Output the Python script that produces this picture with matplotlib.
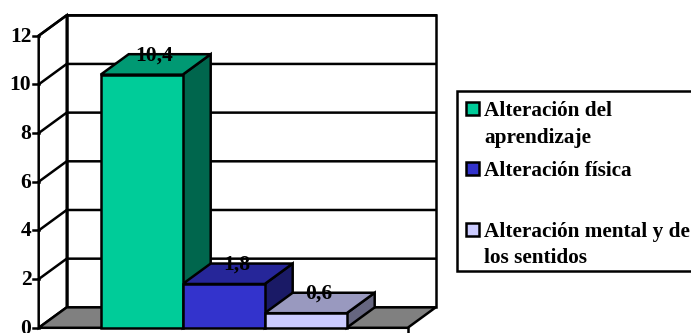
import matplotlib
matplotlib.use('Agg')
import matplotlib.pyplot as plt
from matplotlib.patches import Polygon, Rectangle

categorias = ['Alteración del\naprendizaje', 'Alteración física', 'Alteración mental y de\nlos sentidos']
valores = [10.4, 1.8, 0.6]
etiquetas = ['10,4', '1,8', '0,6']
yticks = [0, 2, 4, 6, 8, 10, 12]

frente = ['#00CC99', '#3333CC', '#CCCCFF']
arriba = ['#009973', '#262699', '#9999BF']
lado = ['#00664D', '#1A1A66', '#666680']

# desplazamiento oblicuo de la profundidad, en unidades de datos
DX = 0.3415
DY = 0.84

plt.rcParams['font.family'] = ['Liberation Serif']
plt.rcParams['font.weight'] = 'bold'

W, H = 691, 333
fig = plt.figure(figsize=(W / 100, H / 100), dpi=100)
ax = fig.add_axes([38.7 / W, (H - 327.8) / H, 369 / W, 292.1 / H])
ax.set_xlim(-0.756, 3.744)
ax.set_ylim(0, 12)
ax.axis('off')

LW = 1.8
xmin, xmax = ax.get_xlim()


def poly(pts, color, z):
    ax.add_patch(Polygon(pts, closed=True, facecolor=color, edgecolor='black',
                         linewidth=LW, joinstyle='miter', clip_on=False, zorder=z))


# suelo y paredes
poly([(xmin, 0), (xmax, 0), (xmax + DX, DY), (xmin + DX, DY)], '#808080', 2)
poly([(xmin + DX, DY), (xmax + DX, DY), (xmax + DX, 12 + DY), (xmin + DX, 12 + DY)], 'white', 1)
poly([(xmin, 0), (xmin + DX, DY), (xmin + DX, 12 + DY), (xmin, 12)], 'white', 1)

# rejilla y marcas del eje
for t in yticks[1:]:
    ax.plot([xmin, xmin + DX, xmax + DX], [t, t + DY, t + DY], color='black',
            lw=LW, clip_on=False, zorder=1.5, solid_joinstyle='miter')
for t in yticks:
    ax.plot([xmin - 0.07, xmin], [t, t], color='black', lw=LW, clip_on=False, zorder=3)
    ax.text(xmin - 0.09, t - 0.04, str(t), ha='right', va='center', fontsize=15.5, clip_on=False, zorder=6)

# marca inferior derecha
ax.plot([xmax, xmax], [0, -0.22], color='black', lw=LW, clip_on=False, zorder=3)

# barras
for i, v in enumerate(valores):
    x0, x1 = i, i + 1
    poly([(x1, 0), (x1 + DX, DY), (x1 + DX, v + DY), (x1, v)], lado[i], 4)
    poly([(x0, v), (x1, v), (x1 + DX, v + DY), (x0 + DX, v + DY)], arriba[i], 4)
    poly([(x0, 0), (x1, 0), (x1, v), (x0, v)], frente[i], 5)
    ax.text(i + 0.485 + DX / 2, v + DY - 0.05, etiquetas[i], ha='center', va='center',
            fontsize=15.5, zorder=7)

# leyenda en coordenadas de pixel
fig.add_artist(Rectangle((457 / W, (H - 271) / H), 240 / W, 180 / H, transform=fig.transFigure,
                         facecolor='white', edgecolor='black', linewidth=LW))
filas_y = [108.5, 168.5, 229]
for c, col, y in zip(categorias, frente, filas_y):
    fig.add_artist(Rectangle((466 / W, (H - y - 6.5) / H), 13 / W, 13 / H, transform=fig.transFigure,
                             facecolor=col, edgecolor='black', linewidth=LW))
    for j, linea in enumerate(c.split('\n')):
        fig.text(484 / W, (H - y - 3 - j * 26) / H, linea, ha='left', va='center', fontsize=15.3)

fig.savefig('out.png', dpi=100)
